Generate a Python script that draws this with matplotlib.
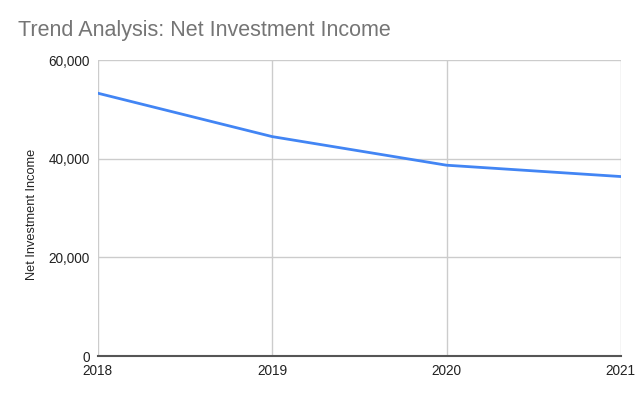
import matplotlib.pyplot as plt
from matplotlib.ticker import FuncFormatter

plt.rcParams['font.family'] = ['Liberation Sans', 'DejaVu Sans']

years = [2018, 2019, 2020, 2021]
income = [53300, 44500, 38700, 36400]
yticks = [0, 20000, 40000, 60000]

fig = plt.figure(figsize=(6.4, 3.96), dpi=100)
ax = fig.add_axes([0.153, 0.101, 0.817, 0.747])

ax.plot(years, income, color="#4285F4", linewidth=2, solid_joinstyle="round")

ax.set_xlim(2018, 2021)
ax.set_ylim(0, 60000)
ax.set_xticks(years)
ax.set_yticks(yticks)
ax.yaxis.set_major_formatter(FuncFormatter(lambda v, p: f"{int(v):,}"))
ax.grid(True, color="#cccccc", linewidth=1)
ax.set_axisbelow(True)
for side in ["left", "right", "top"]:
    ax.spines[side].set_visible(False)
ax.spines["bottom"].set_color("#555555")
ax.spines["bottom"].set_linewidth(1.5)
ax.spines["bottom"].set_zorder(3)
ax.tick_params(length=0, labelsize=9.8, colors="#222222")
ax.tick_params(axis="y", pad=6)
ax.tick_params(axis="x", pad=6)

ax.set_ylabel("Net Investment Income", fontsize=9.2, color="#222222")
ax.yaxis.set_label_coords(-0.115, 0.48)
fig.text(0.028, 0.922, "Trend Analysis: Net Investment Income", fontsize=15.5,
         color="#757575", ha="left", va="center")

fig.savefig("out.png", dpi=100)
